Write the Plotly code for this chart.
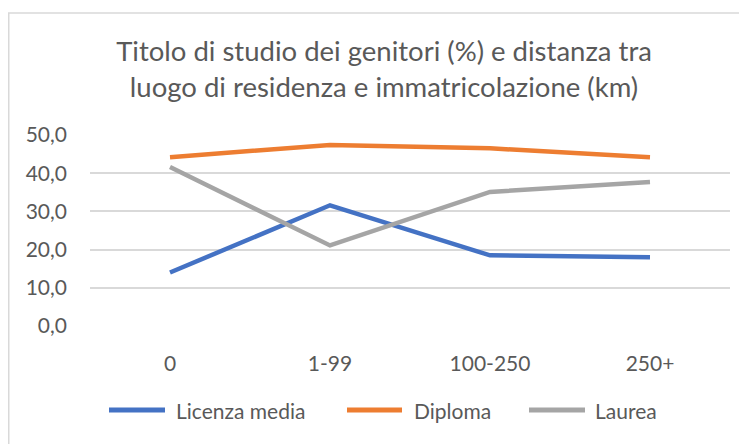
import plotly.graph_objects as go

categories = ["0", "1-99", "100-250", "250+"]
licenza_media = [14.0, 31.6, 18.5, 18.0]
diploma = [44.2, 47.4, 46.5, 44.2]
laurea = [41.6, 21.1, 35.1, 37.7]
y_ticks = [0, 10, 20, 30, 40, 50]
series_names = ["Licenza media", "Diploma", "Laurea"]
series_colors = ["#4472C4", "#ED7D31", "#A5A5A5"]

# page has an 8px body margin; figure is sized to fit the window
W, H = 739, 436
L, R, T, B = 82, 17, 127, 118
pw, ph = W - L - R, H - T - B

FONT = "Lato"
GREY_TXT = "#595959"


def px_x(x):
    return (x - L) / pw


def px_y(y):
    return (T + ph - y) / ph


fig = go.Figure()
for name, vals, col in zip(series_names, [licenza_media, diploma, laurea], series_colors):
    fig.add_trace(go.Scatter(x=categories, y=vals, name=name, mode="lines",
                             line=dict(color=col, width=4.5), showlegend=False))

# outer chart border (left/top visible)
fig.add_shape(type="rect", xref="paper", yref="paper",
              x0=px_x(0.75), x1=px_x(W + 20),
              y0=px_y(H + 20), y1=px_y(5),
              line=dict(color="#d9d9d9", width=1.5), layer="below")

# manual legend (Excel-style long line samples)
legend_items = [(101, 157, 166), (339, 394, 404), (521, 577, 585)]
legend_y = 402
for (lx0, lx1, tx), name, col in zip(legend_items, series_names, series_colors):
    fig.add_shape(type="line", xref="paper", yref="paper",
                  x0=px_x(lx0), x1=px_x(lx1), y0=px_y(legend_y), y1=px_y(legend_y),
                  line=dict(color=col, width=5))
    fig.add_annotation(xref="paper", yref="paper", x=px_x(tx), y=px_y(legend_y),
                       text=name, showarrow=False, xanchor="left", yanchor="middle",
                       font=dict(family=FONT, size=21, color=GREY_TXT))

fig.update_layout(
    width=W, height=H,
    margin=dict(l=L, r=R, t=T, b=B, autoexpand=False),
    paper_bgcolor="white", plot_bgcolor="white",
    separators=",.",
    font=dict(family=FONT, color=GREY_TXT),
    showlegend=False,
    title=dict(text="Titolo di studio dei genitori (%) e distanza tra<br>luogo di residenza e immatricolazione (km)",
               x=376 / W, xanchor="center", y=1 - 53 / H, yanchor="middle",
               font=dict(family=FONT, size=27.5, color=GREY_TXT)),
    xaxis=dict(type="category", range=[-0.5, 3.5], showgrid=False, zeroline=False,
               showline=False, ticks="", tickfont=dict(size=21, color=GREY_TXT),
               ticklabelstandoff=23),
    yaxis=dict(range=[0, 50], tickvals=y_ticks, tickformat=".1f", showgrid=True,
               gridcolor="#d9d9d9", gridwidth=1.5, zeroline=False, showline=False,
               ticks="", tickfont=dict(size=21, color=GREY_TXT), ticklabelstandoff=22),
)

fig.write_html("out.html")
